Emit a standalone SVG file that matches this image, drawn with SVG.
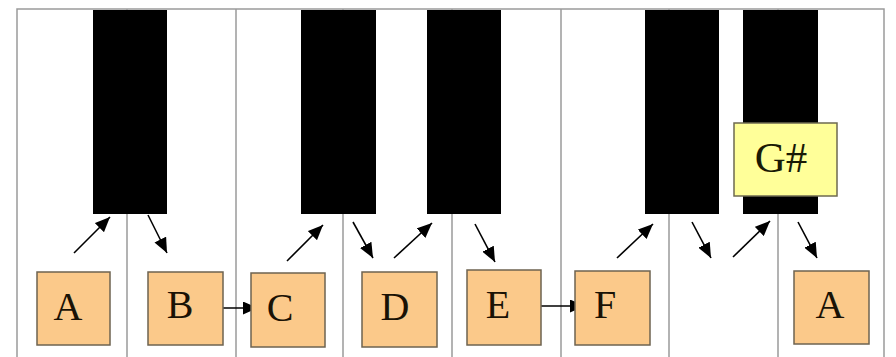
<svg xmlns="http://www.w3.org/2000/svg" width="896" height="357" viewBox="0 0 896 357">
<defs>
<marker id="ah" markerUnits="userSpaceOnUse" markerWidth="16" markerHeight="13" refX="15" refY="6.5" orient="auto">
<path d="M0,0 L15,6.5 L0,13 Z" fill="#000"/>
</marker>
<style>
.sep{stroke:#9a9a9a;stroke-width:1.5;fill:none}
.blk{fill:#000}
.note rect{fill:#fbc98a;stroke:#6e6350;stroke-width:1.5}
.note text{font-family:"Liberation Serif",serif;font-size:40px;fill:#1a1205;text-anchor:middle}
.gs rect{fill:#ffff99;stroke:#6e6a50;stroke-width:1.5}
.gs text{font-family:"Liberation Serif",serif;font-size:43px;fill:#1a1a05;text-anchor:middle}
.con line{stroke:#000;stroke-width:1.6;marker-end:url(#ah)}
</style>
</defs>
<rect width="896" height="357" fill="#fff"/>
<g id="keyboard">
<path class="sep" d="M17,357 V9 H884 V357"/>
<line class="sep" x1="127" y1="9" x2="127" y2="357"/>
<line class="sep" x1="236" y1="9" x2="236" y2="357"/>
<line class="sep" x1="343" y1="9" x2="343" y2="357"/>
<line class="sep" x1="452" y1="9" x2="452" y2="357"/>
<line class="sep" x1="561" y1="9" x2="561" y2="357"/>
<line class="sep" x1="669" y1="9" x2="669" y2="357"/>
<line class="sep" x1="778" y1="9" x2="778" y2="357"/>
<rect class="blk" x="93" y="10" width="74" height="204"/>
<rect class="blk" x="301" y="10" width="75" height="204"/>
<rect class="blk" x="427" y="10" width="74" height="204"/>
<rect class="blk" x="645" y="10" width="74" height="204"/>
<rect class="blk" x="743" y="10" width="75" height="204"/>
</g>
<g id="connectors" class="con">
<line x1="74" y1="253" x2="110" y2="217"/>
<line x1="148" y1="215" x2="167" y2="253"/>
<line x1="205" y1="308" x2="258" y2="308"/>
<line x1="287" y1="261" x2="323" y2="225"/>
<line x1="353" y1="222" x2="373" y2="258"/>
<line x1="394" y1="258" x2="432" y2="223"/>
<line x1="475" y1="224" x2="495" y2="262"/>
<line x1="530" y1="306" x2="585" y2="306"/>
<line x1="617" y1="258" x2="653" y2="224"/>
<line x1="692" y1="222" x2="711" y2="258"/>
<line x1="733" y1="257" x2="770" y2="221"/>
<line x1="798" y1="222" x2="817" y2="258"/>
</g>
<g id="note-A1" class="note"><rect x="37" y="272" width="73" height="73"/><text x="68" y="320">A</text></g>
<g id="note-B" class="note"><rect x="148" y="272" width="75" height="73"/><text x="180" y="318">B</text></g>
<g id="note-C" class="note"><rect x="251" y="273" width="74" height="74"/><text x="280" y="321">C</text></g>
<g id="note-D" class="note"><rect x="362" y="272" width="75" height="75"/><text x="395" y="320">D</text></g>
<g id="note-E" class="note"><rect x="467" y="270" width="74" height="75"/><text x="498" y="318">E</text></g>
<g id="note-F" class="note"><rect x="575" y="271" width="75" height="74"/><text x="605" y="318">F</text></g>
<g id="note-A2" class="note"><rect x="794" y="271" width="75" height="73"/><text x="830" y="318">A</text></g>
<g id="note-Gsharp" class="gs"><rect x="734" y="123" width="103" height="73"/><text x="781" y="172">G#</text></g>
</svg>
